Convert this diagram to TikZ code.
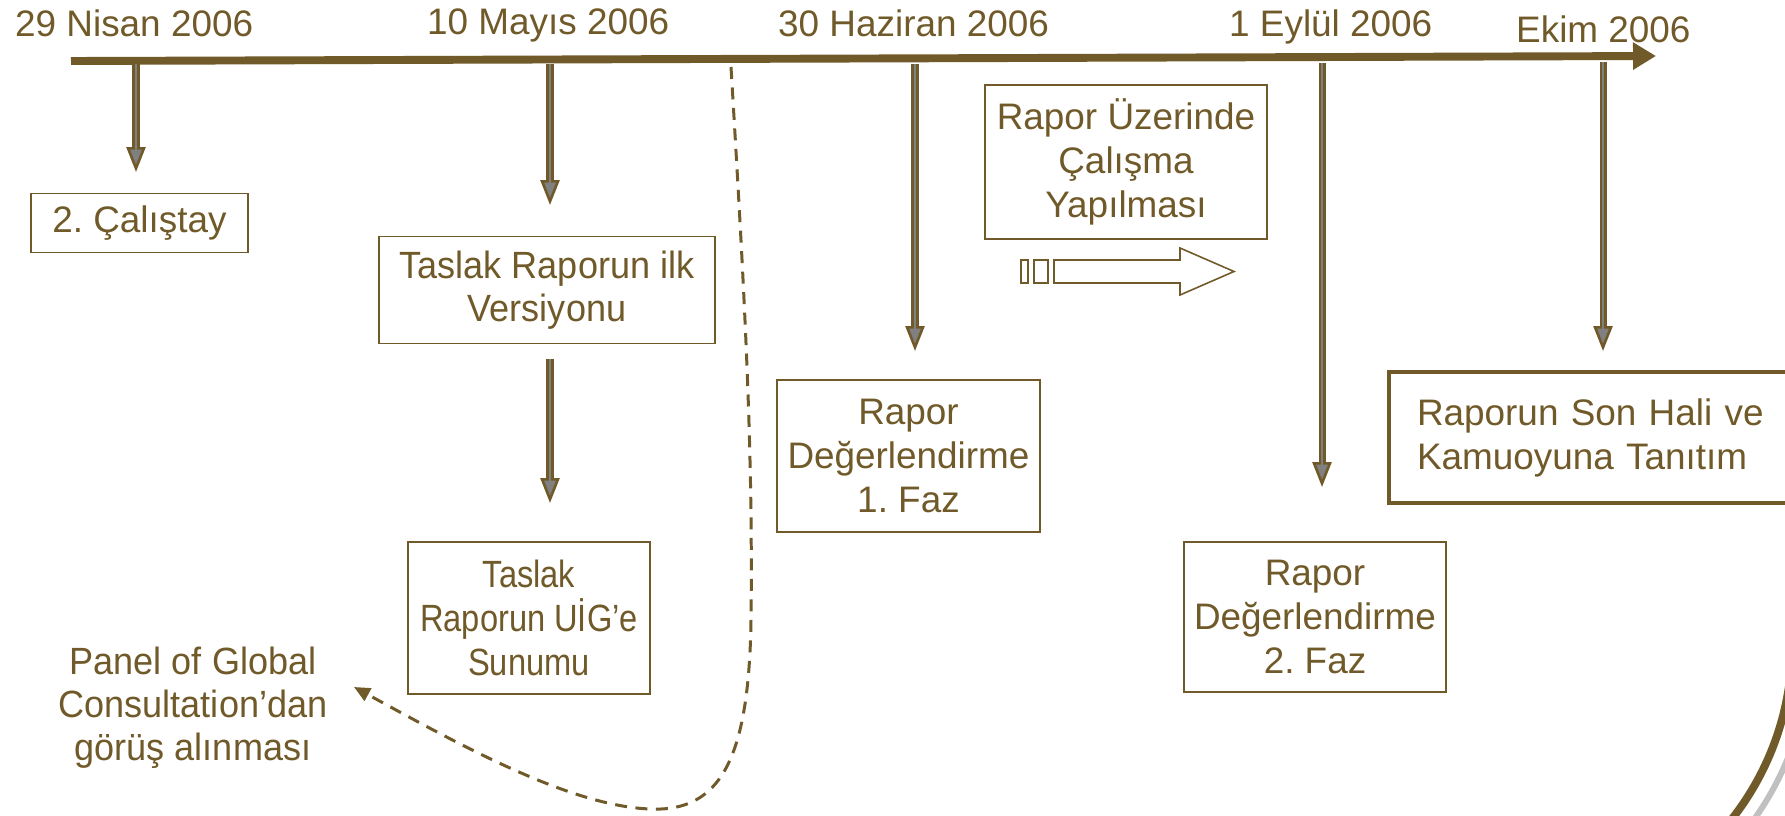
\documentclass[tikz,border=0pt]{standalone}
\usepackage{fontspec}
\setmainfont{Liberation Sans}
\newfontfamily\narrowfont[FakeStretch=0.95]{Liberation Sans}
\newfontfamily\slimfont[FakeStretch=0.86]{Liberation Sans}
\usepackage{xcolor}
\definecolor{Bark}{HTML}{715A29}
\definecolor{Ash}{HTML}{808080}
\definecolor{PaleAsh}{HTML}{C0C0C0}
\usetikzlibrary{positioning,arrows.meta}
\frenchspacing

\begin{document}
\begin{tikzpicture}[x=0.02cm,y=-0.02cm,
 every node/.style={text=Bark,font=\fontsize{21}{25}\selectfont},
 box/.style={draw=Bark,line width=1.1pt,align=center,inner sep=0pt},
 narrow/.style={font=\narrowfont\fontsize{21.6}{24.5}\selectfont},
 slim/.style={font=\slimfont\fontsize{21.6}{25}\selectfont},
 date/.style={anchor=base west},
 pole/.style={Bark,line width=4pt,-{Triangle[length=0.5cm,width=0.38cm,fill=Ash,line width=1.5pt]},
  postaction={draw=Ash,line width=1.1pt,-,shorten >=0.35cm}},
 hollow/.style={draw=Bark,line width=0.9pt,fill=white}]
\clip (0,0) rectangle (1785,815);
\fill[white] (0,0) rectangle (1785,815);
% timeline
\coordinate (tl0) at (71,61); \coordinate (tl1) at (1656,56);
\draw[Bark,line width=4.5pt,-{Triangle[length=0.46cm,width=0.52cm]}] (tl0) -- (tl1);
\node[date] (d1) at (9,36) {29 Nisan 2006};
\node[date] (d2) at (421,34) {10 Mayıs 2006};
\node[date] (d3) at (772,36) {30 Haziran 2006};
\node[date] (d4) at (1223,36) {1 Eylül 2006};
\node[date] (d5) at (1510,42) {Ekim 2006};
% boxes
\node[box,minimum width=4.34cm,minimum height=1.18cm] (cal) at (139.5,223) {2. Çalıştay};
\node[box,narrow,minimum width=6.72cm,minimum height=2.14cm] (tv) at (547,290) {Taslak Raporun ilk\\Versiyonu};
\node[box,slim,minimum width=4.84cm,minimum height=3.04cm] (ts) at (529,618) {Taslak\\Raporun UİG’e\\Sunumu};
\node[box,minimum width=5.26cm,minimum height=3.04cm] (rd1) at (908.5,456) {Rapor\\Değerlendirme\\1. Faz};
\node[box,minimum width=5.64cm,minimum height=3.08cm] (ruc) at (1126,162) {Rapor Üzerinde\\Çalışma\\Yapılması};
\node[box,minimum width=5.24cm,minimum height=3.0cm] (rd2) at (1315,617) {Rapor\\Değerlendirme\\2. Faz};
\node[box,line width=2.3pt,anchor=north west,text width=7.74cm,inner xsep=0.56cm,align=left,
 minimum height=2.62cm] (son) at (1387,370) {Raporun Son Hali ve\\Kamuoyuna Tanıtım};
\node[narrow,align=center] (pnl) at (193,708) {Panel of Global\\Consultation’dan\\görüş alınması};
% poles
\coordinate (t1) at (136,64); \coordinate (h1) at (136,172);
\coordinate (t2) at (550,64); \coordinate (h2) at (550,205);
\coordinate (t3) at (915,64); \coordinate (h3) at (915,351);
\coordinate (t4) at (1322,63); \coordinate (h4) at (1322,487);
\coordinate (t5) at (1603,62); \coordinate (h5) at (1603,351);
\coordinate (t6) at (550,359); \coordinate (h6) at (550,503);
\foreach \i in {1,...,6} \draw[pole] (t\i) -- (h\i);
% consultation loop
\coordinate (ds) at (731,67); \coordinate (de) at (354,687);
\draw[Bark,line width=1.7pt,dash pattern=on 0.24cm off 0.17cm,-{Triangle[length=0.32cm,width=0.28cm]}]
 (ds) .. controls (745,300) and (753,450) .. (751,620)
 .. controls (749,760) and (720,812) .. (650,809)
 .. controls (570,806) and (460,745) .. (de);
% hollow arrow
\draw[hollow] (1021,260) rectangle (1028,283);
\draw[hollow] (1034,260) rectangle (1048,283);
\draw[hollow] (1054,260) -- (1180,260) -- (1180,248) -- (1234,271.5) -- (1180,295) -- (1180,283) -- (1054,283) -- cycle;
% corner arcs
\draw[PaleAsh,line width=3.4pt] (1510,645) ++(0:300) arc[start angle=0,end angle=70,radius=300];
\draw[Bark,line width=4.5pt] (1510,645) ++(0:282) arc[start angle=0,end angle=70,radius=282];
\end{tikzpicture}
\end{document}
